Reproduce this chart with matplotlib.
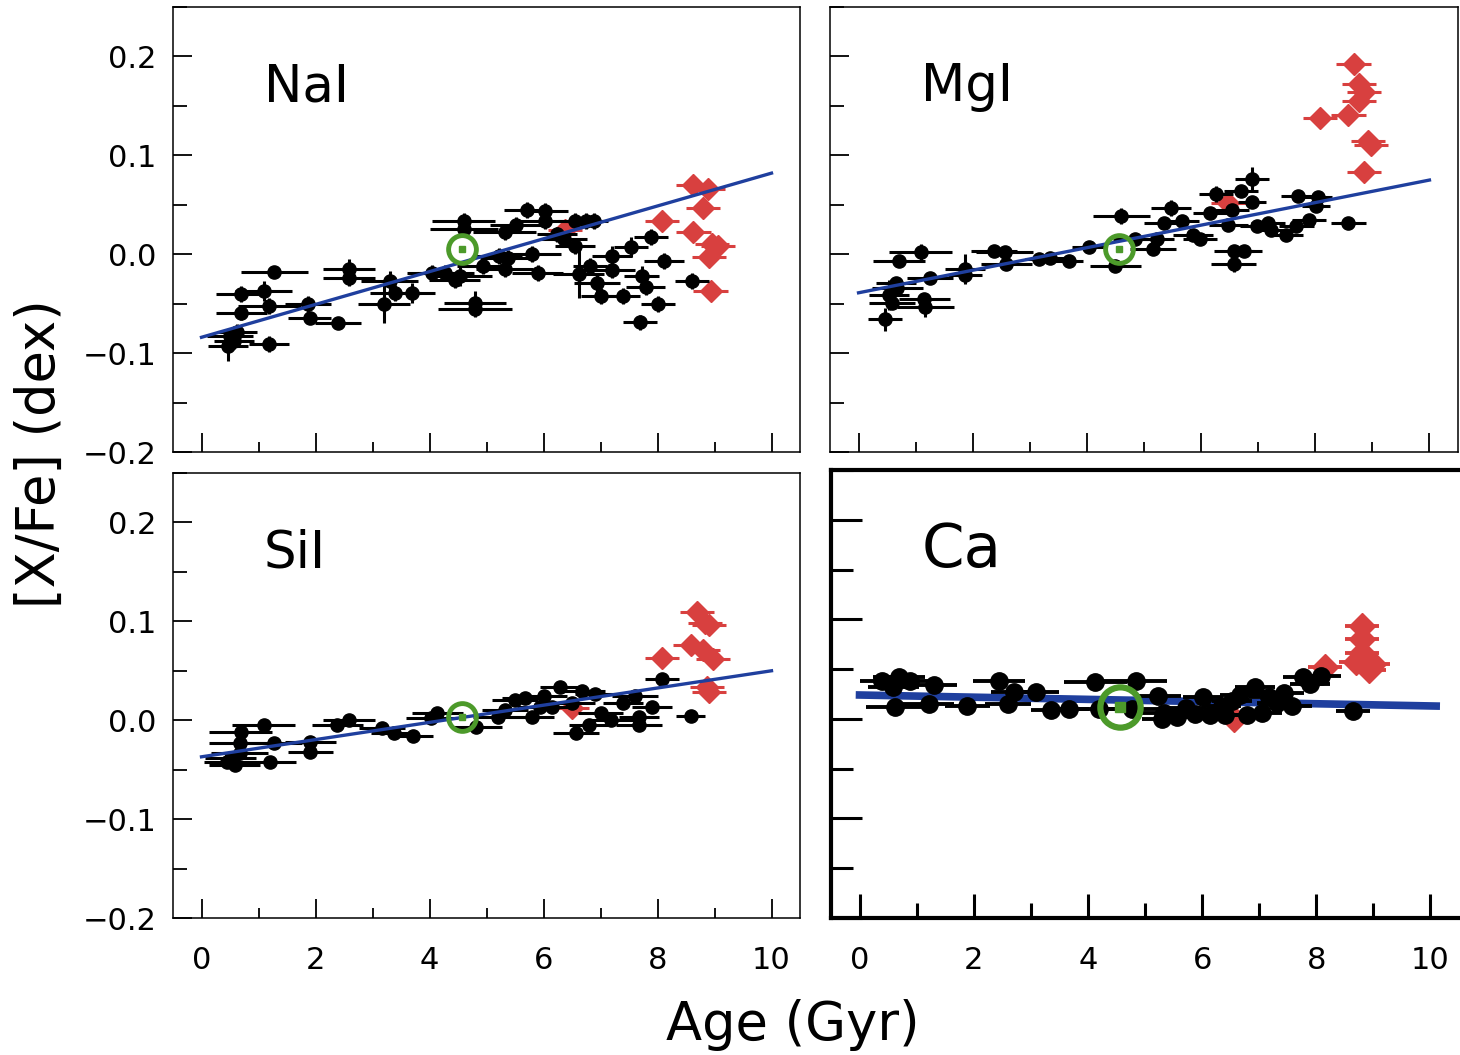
import matplotlib.pyplot as plt
from matplotlib.ticker import MultipleLocator

# ---------------------------------------------------------------------------
# data: [X/Fe] versus stellar age, four elements
# ---------------------------------------------------------------------------

SUN_AGE = 4.57

# --- NaI ---
na_age = [0.70, 1.09, 1.28, 1.19, 0.70, 1.87, 1.90, 2.39, 0.50, 0.57,
          0.47, 0.63, 1.19, 2.59, 2.59, 3.30, 3.40, 3.20, 3.69, 4.05,
          4.28, 4.54, 4.60, 4.60, 4.44, 4.80, 4.80, 4.93, 5.32, 5.51,
          5.71, 6.03, 6.03, 5.22, 5.38, 5.32, 5.80, 5.90, 6.23, 6.36,
          6.55, 6.75, 6.88, 6.55, 6.62, 6.81, 6.94, 7.01, 7.20, 7.20,
          7.40, 7.53, 7.72, 7.79, 7.89, 8.11, 8.01, 7.69, 8.60]
na_xfe = [-0.040, -0.037, -0.018, -0.052, -0.059, -0.050, -0.064, -0.070, -0.083, -0.088,
          -0.093, -0.079, -0.091, -0.015, -0.024, -0.027, -0.039, -0.050, -0.039, -0.019,
          -0.019, -0.022, 0.034, 0.025, -0.026, -0.049, -0.055, -0.012, 0.022, 0.030,
          0.045, 0.044, 0.034, -0.002, -0.004, -0.015, 0.000, -0.019, 0.020, 0.015,
          0.034, 0.034, 0.034, 0.008, -0.020, -0.012, -0.029, -0.042, -0.002, -0.016,
          -0.042, 0.007, -0.022, -0.033, 0.017, -0.007, -0.050, -0.069, -0.027]
na_age_err = [0.45, 0.50, 0.58, 0.55, 0.45, 0.40, 0.38, 0.40, 0.40, 0.35,
              0.35, 0.35, 0.35, 0.45, 0.45, 0.50, 0.45, 0.45, 0.40, 0.45,
              0.50, 0.55, 0.55, 0.60, 0.45, 0.55, 0.65, 0.45, 0.55, 0.45,
              0.40, 0.40, 0.45, 0.40, 0.50, 0.50, 0.50, 0.45, 0.35, 0.40,
              0.30, 0.30, 0.25, 0.35, 0.45, 0.30, 0.40, 0.35, 0.35, 0.40,
              0.30, 0.30, 0.30, 0.35, 0.30, 0.35, 0.30, 0.30, 0.30]
na_xfe_err = [0.008, 0.010, 0.006, 0.008, 0.008, 0.008, 0.006, 0.005, 0.008, 0.008,
              0.015, 0.008, 0.008, 0.010, 0.008, 0.010, 0.008, 0.020, 0.010, 0.008,
              0.008, 0.010, 0.008, 0.008, 0.008, 0.012, 0.008, 0.008, 0.008, 0.008,
              0.008, 0.008, 0.008, 0.008, 0.008, 0.008, 0.008, 0.008, 0.008, 0.008,
              0.008, 0.008, 0.008, 0.008, 0.024, 0.008, 0.010, 0.008, 0.010, 0.008,
              0.008, 0.010, 0.010, 0.008, 0.008, 0.008, 0.008, 0.008, 0.008]
na_old_age = [8.63, 8.88, 8.80, 8.08, 8.63, 8.96, 9.06, 8.90, 8.93, 6.38]
na_old_xfe = [0.070, 0.066, 0.047, 0.034, 0.022, 0.010, 0.008, -0.003, -0.037, 0.024]
na_sun = 0.005
na_fit = (-0.084, 0.0166)

# --- MgI ---
mg_age = [1.09, 0.71, 1.87, 1.87, 1.25, 1.15, 1.17, 0.68, 0.53, 0.59,
          0.46, 0.65, 2.37, 2.56, 2.59, 3.16, 3.35, 3.69, 4.04, 4.60,
          4.50, 4.85, 5.16, 5.22, 5.35, 5.48, 5.66, 5.85, 5.98, 6.16,
          6.26, 6.48, 6.54, 6.70, 6.89, 6.89, 6.57, 6.76, 6.57, 6.98,
          7.17, 7.23, 7.48, 7.67, 7.70, 7.89, 8.05, 8.01, 8.58]
mg_xfe = [0.002, -0.007, -0.015, -0.021, -0.024, -0.045, -0.053, -0.034, -0.041, -0.049,
          -0.066, -0.029, 0.003, 0.002, -0.010, -0.005, -0.004, -0.007, 0.007, 0.039,
          -0.012, 0.015, 0.005, 0.015, 0.032, 0.047, 0.034, 0.019, 0.015, 0.042,
          0.061, 0.030, 0.045, 0.064, 0.076, 0.053, 0.003, 0.003, -0.010, 0.029,
          0.032, 0.024, 0.019, 0.029, 0.059, 0.035, 0.058, 0.049, 0.032]
mg_age_err = [0.55, 0.45, 0.35, 0.30, 0.40, 0.45, 0.50, 0.45, 0.35, 0.40,
              0.30, 0.35, 0.40, 0.50, 0.45, 0.25, 0.25, 0.25, 0.30, 0.50,
              0.45, 0.40, 0.40, 0.30, 0.35, 0.35, 0.30, 0.35, 0.30, 0.30,
              0.30, 0.35, 0.30, 0.30, 0.30, 0.25, 0.35, 0.30, 0.40, 0.30,
              0.30, 0.30, 0.30, 0.30, 0.30, 0.30, 0.25, 0.25, 0.30]
mg_xfe_err = [0.008, 0.006, 0.015, 0.006, 0.006, 0.006, 0.010, 0.006, 0.015, 0.006,
              0.012, 0.006, 0.006, 0.006, 0.006, 0.004, 0.004, 0.004, 0.006, 0.008,
              0.006, 0.006, 0.006, 0.006, 0.006, 0.008, 0.006, 0.006, 0.006, 0.006,
              0.008, 0.006, 0.006, 0.006, 0.012, 0.006, 0.006, 0.006, 0.008, 0.006,
              0.006, 0.006, 0.006, 0.006, 0.006, 0.006, 0.006, 0.006, 0.006]
mg_old_age = [8.67, 8.77, 8.86, 8.77, 8.58, 8.08, 8.92, 8.97, 8.86, 6.48]
mg_old_xfe = [0.192, 0.172, 0.164, 0.155, 0.141, 0.138, 0.114, 0.110, 0.083, 0.052]
mg_sun = 0.005
mg_fit = (-0.039, 0.0114)

# --- SiI ---
si_age = [1.09, 0.69, 0.68, 0.67, 0.51, 0.58, 0.44, 1.20, 1.27, 1.91,
          1.91, 2.38, 2.59, 3.17, 3.38, 3.71, 4.03, 4.14, 4.82, 5.21,
          5.32, 5.50, 5.68, 5.79, 5.94, 6.01, 6.15, 6.29, 6.50, 6.57,
          6.68, 6.90, 6.79, 7.00, 7.18, 7.40, 7.61, 7.68, 7.68, 7.90,
          8.08, 8.58]
si_xfe = [-0.005, -0.012, -0.023, -0.033, -0.038, -0.045, -0.042, -0.042, -0.023, -0.022,
          -0.032, -0.005, 0.000, -0.008, -0.013, -0.016, 0.002, 0.007, -0.007, 0.003,
          0.010, 0.020, 0.022, 0.003, 0.013, 0.025, 0.013, 0.034, 0.017, -0.013,
          0.030, 0.027, -0.005, 0.007, 0.000, 0.017, 0.024, 0.003, -0.005, 0.013,
          0.042, 0.004]
si_age_err = [0.55, 0.55, 0.55, 0.50, 0.45, 0.45, 0.40, 0.45, 0.50, 0.45,
              0.40, 0.45, 0.45, 0.40, 0.40, 0.35, 0.45, 0.45, 0.45, 0.45,
              0.40, 0.40, 0.40, 0.40, 0.40, 0.40, 0.40, 0.35, 0.40, 0.40,
              0.40, 0.35, 0.35, 0.40, 0.40, 0.35, 0.40, 0.35, 0.40, 0.35,
              0.30, 0.25]
si_xfe_err = [0.005] * 42
si_old_age = [8.69, 8.83, 8.90, 8.58, 8.80, 8.98, 8.08, 8.87, 8.90, 6.50]
si_old_xfe = [0.109, 0.098, 0.096, 0.076, 0.071, 0.062, 0.063, 0.034, 0.029, 0.012]
si_sun = 0.003
si_fit = (-0.037, 0.0087)

# --- Ca ---
ca_age = [0.69, 0.40, 0.59, 0.88, 0.62, 1.21, 1.30, 1.89, 2.44, 2.60,
          2.70, 3.09, 3.35, 3.67, 4.13, 4.19, 4.84, 4.78, 5.23, 5.33,
          5.30, 5.56, 5.72, 5.88, 6.01, 6.14, 6.34, 6.53, 6.66, 6.79,
          6.92, 7.05, 7.18, 7.31, 7.44, 7.57, 7.76, 7.89, 8.08, 8.64,
          6.40]
ca_xfe = [0.042, 0.038, 0.032, 0.038, 0.012, 0.015, 0.034, 0.013, 0.038, 0.015,
          0.027, 0.027, 0.009, 0.010, 0.037, 0.010, 0.038, 0.010, 0.023, 0.006,
          0.000, 0.002, 0.011, 0.005, 0.022, 0.004, 0.013, 0.018, 0.024, 0.004,
          0.032, 0.006, 0.022, 0.016, 0.026, 0.013, 0.042, 0.035, 0.043, 0.008,
          0.004]
ca_age_err = [0.45, 0.40, 0.45, 0.45, 0.50, 0.45, 0.40, 0.40, 0.45, 0.40,
              0.40, 0.40, 0.35, 0.35, 0.55, 0.45, 0.55, 0.45, 0.40, 0.40,
              0.35, 0.35, 0.35, 0.35, 0.35, 0.35, 0.35, 0.35, 0.35, 0.35,
              0.35, 0.35, 0.35, 0.35, 0.35, 0.35, 0.35, 0.35, 0.35, 0.30,
              0.35]
ca_xfe_err = [0.005] * 41
ca_old_age = [8.80, 8.80, 8.80, 8.70, 9.00, 8.93, 8.15, 6.56]
ca_old_xfe = [0.093, 0.080, 0.066, 0.057, 0.055, 0.049, 0.052, 0.000]
ca_sun = 0.012
ca_fit = (0.024, -0.0011)

RED = "#d8403f"
BLUE = "#1f3f9e"
GREEN = "#4c9a2a"

# ---------------------------------------------------------------------------
# figure
# ---------------------------------------------------------------------------

fig = plt.figure(figsize=(14.6, 10.55), dpi=100)

W, H = 1460.0, 1055.0


def box(left, top, right, bottom):
    return [left / W, 1 - bottom / H, (right - left) / W, (bottom - top) / H]


panels = [
    dict(name="NaI", rect=box(173, 7, 800, 452), age=na_age, xfe=na_xfe,
         aerr=na_age_err, xerr=na_xfe_err, oage=na_old_age, oxfe=na_old_xfe,
         sun=na_sun, fit=na_fit, ylab=True, xlab=False, bold=False),
    dict(name="MgI", rect=box(830, 7, 1458, 452), age=mg_age, xfe=mg_xfe,
         aerr=mg_age_err, xerr=mg_xfe_err, oage=mg_old_age, oxfe=mg_old_xfe,
         sun=mg_sun, fit=mg_fit, ylab=False, xlab=False, bold=False),
    dict(name="SiI", rect=box(173, 473, 800, 918), age=si_age, xfe=si_xfe,
         aerr=si_age_err, xerr=si_xfe_err, oage=si_old_age, oxfe=si_old_xfe,
         sun=si_sun, fit=si_fit, ylab=True, xlab=True, bold=False),
    dict(name="Ca", rect=box(831, 470, 1459, 918), age=ca_age, xfe=ca_xfe,
         aerr=ca_age_err, xerr=ca_xfe_err, oage=ca_old_age, oxfe=ca_old_xfe,
         sun=ca_sun, fit=ca_fit, ylab=False, xlab=True, bold=True),
]

for p in panels:
    ax = fig.add_axes(p["rect"])
    bold = p["bold"]
    ms = 12.5 if bold else 9.5
    ems = 13 if bold else 11
    lw_err = 2.8 if bold else 2.2

    # old red population under the main sample
    ax.errorbar(p["oage"], p["oxfe"], xerr=0.3, yerr=0.006, fmt="D",
                color=RED, ms=ems, elinewidth=lw_err, capsize=0, zorder=2)
    ax.errorbar(p["age"], p["xfe"], xerr=p["aerr"], yerr=p["xerr"], fmt="o",
                color="black", ms=ms, elinewidth=lw_err, capsize=0, zorder=3)

    a0, slope = p["fit"]
    xs = [0.0, 10.1 if bold else 10.0]
    ax.plot(xs, [a0 + slope * x for x in xs], color=BLUE,
            lw=5.5 if bold else 2.4, zorder=2.5 if bold else 4)

    # solar symbol
    ax.plot([SUN_AGE], [p["sun"]], "o", ms=29 if bold else 20, mfc="none",
            mec=GREEN, mew=4.5 if bold else 3.5, zorder=6)
    ax.plot([SUN_AGE], [p["sun"]], "s", ms=7 if bold else 5, color=GREEN, zorder=6)

    ax.set_xlim(-0.5, 10.5)
    ax.set_ylim(-0.2, 0.25)
    ax.xaxis.set_major_locator(MultipleLocator(2))
    ax.xaxis.set_minor_locator(MultipleLocator(1))
    ax.yaxis.set_major_locator(MultipleLocator(0.1))
    ax.yaxis.set_minor_locator(MultipleLocator(0.05))

    spine_w = 3.0 if bold else 1.1
    for side, sp in ax.spines.items():
        sp.set_linewidth(spine_w)
    if bold:
        ax.spines["right"].set_visible(False)

    tw = 2.2 if bold else 1.3
    ax.tick_params(axis="x", which="major", direction="in", length=17 if bold else 14,
                   width=tw, pad=20, labelsize=22, top=False,
                   labelbottom=p["xlab"])
    ax.tick_params(axis="x", which="minor", direction="in", length=11 if bold else 7,
                   width=tw, top=False)
    ax.tick_params(axis="y", which="major", direction="in", length=22 if bold else 14,
                   width=tw, pad=12, labelsize=22, right=False,
                   labelleft=p["ylab"])
    ax.tick_params(axis="y", which="minor", direction="in", length=16 if bold else 10,
                   width=tw, right=False)

    ax.text(0.145, 0.82, p["name"], transform=ax.transAxes,
            fontsize=44 if bold else 37, va="center", ha="left")

fig.text(793 / W, 1 - 1025 / H, "Age (Gyr)", fontsize=38, ha="center", va="center")
fig.text(40 / W, 1 - 454 / H, "[X/Fe] (dex)", fontsize=38, rotation=90,
         ha="center", va="center")

fig.savefig("out.png", dpi=100)
